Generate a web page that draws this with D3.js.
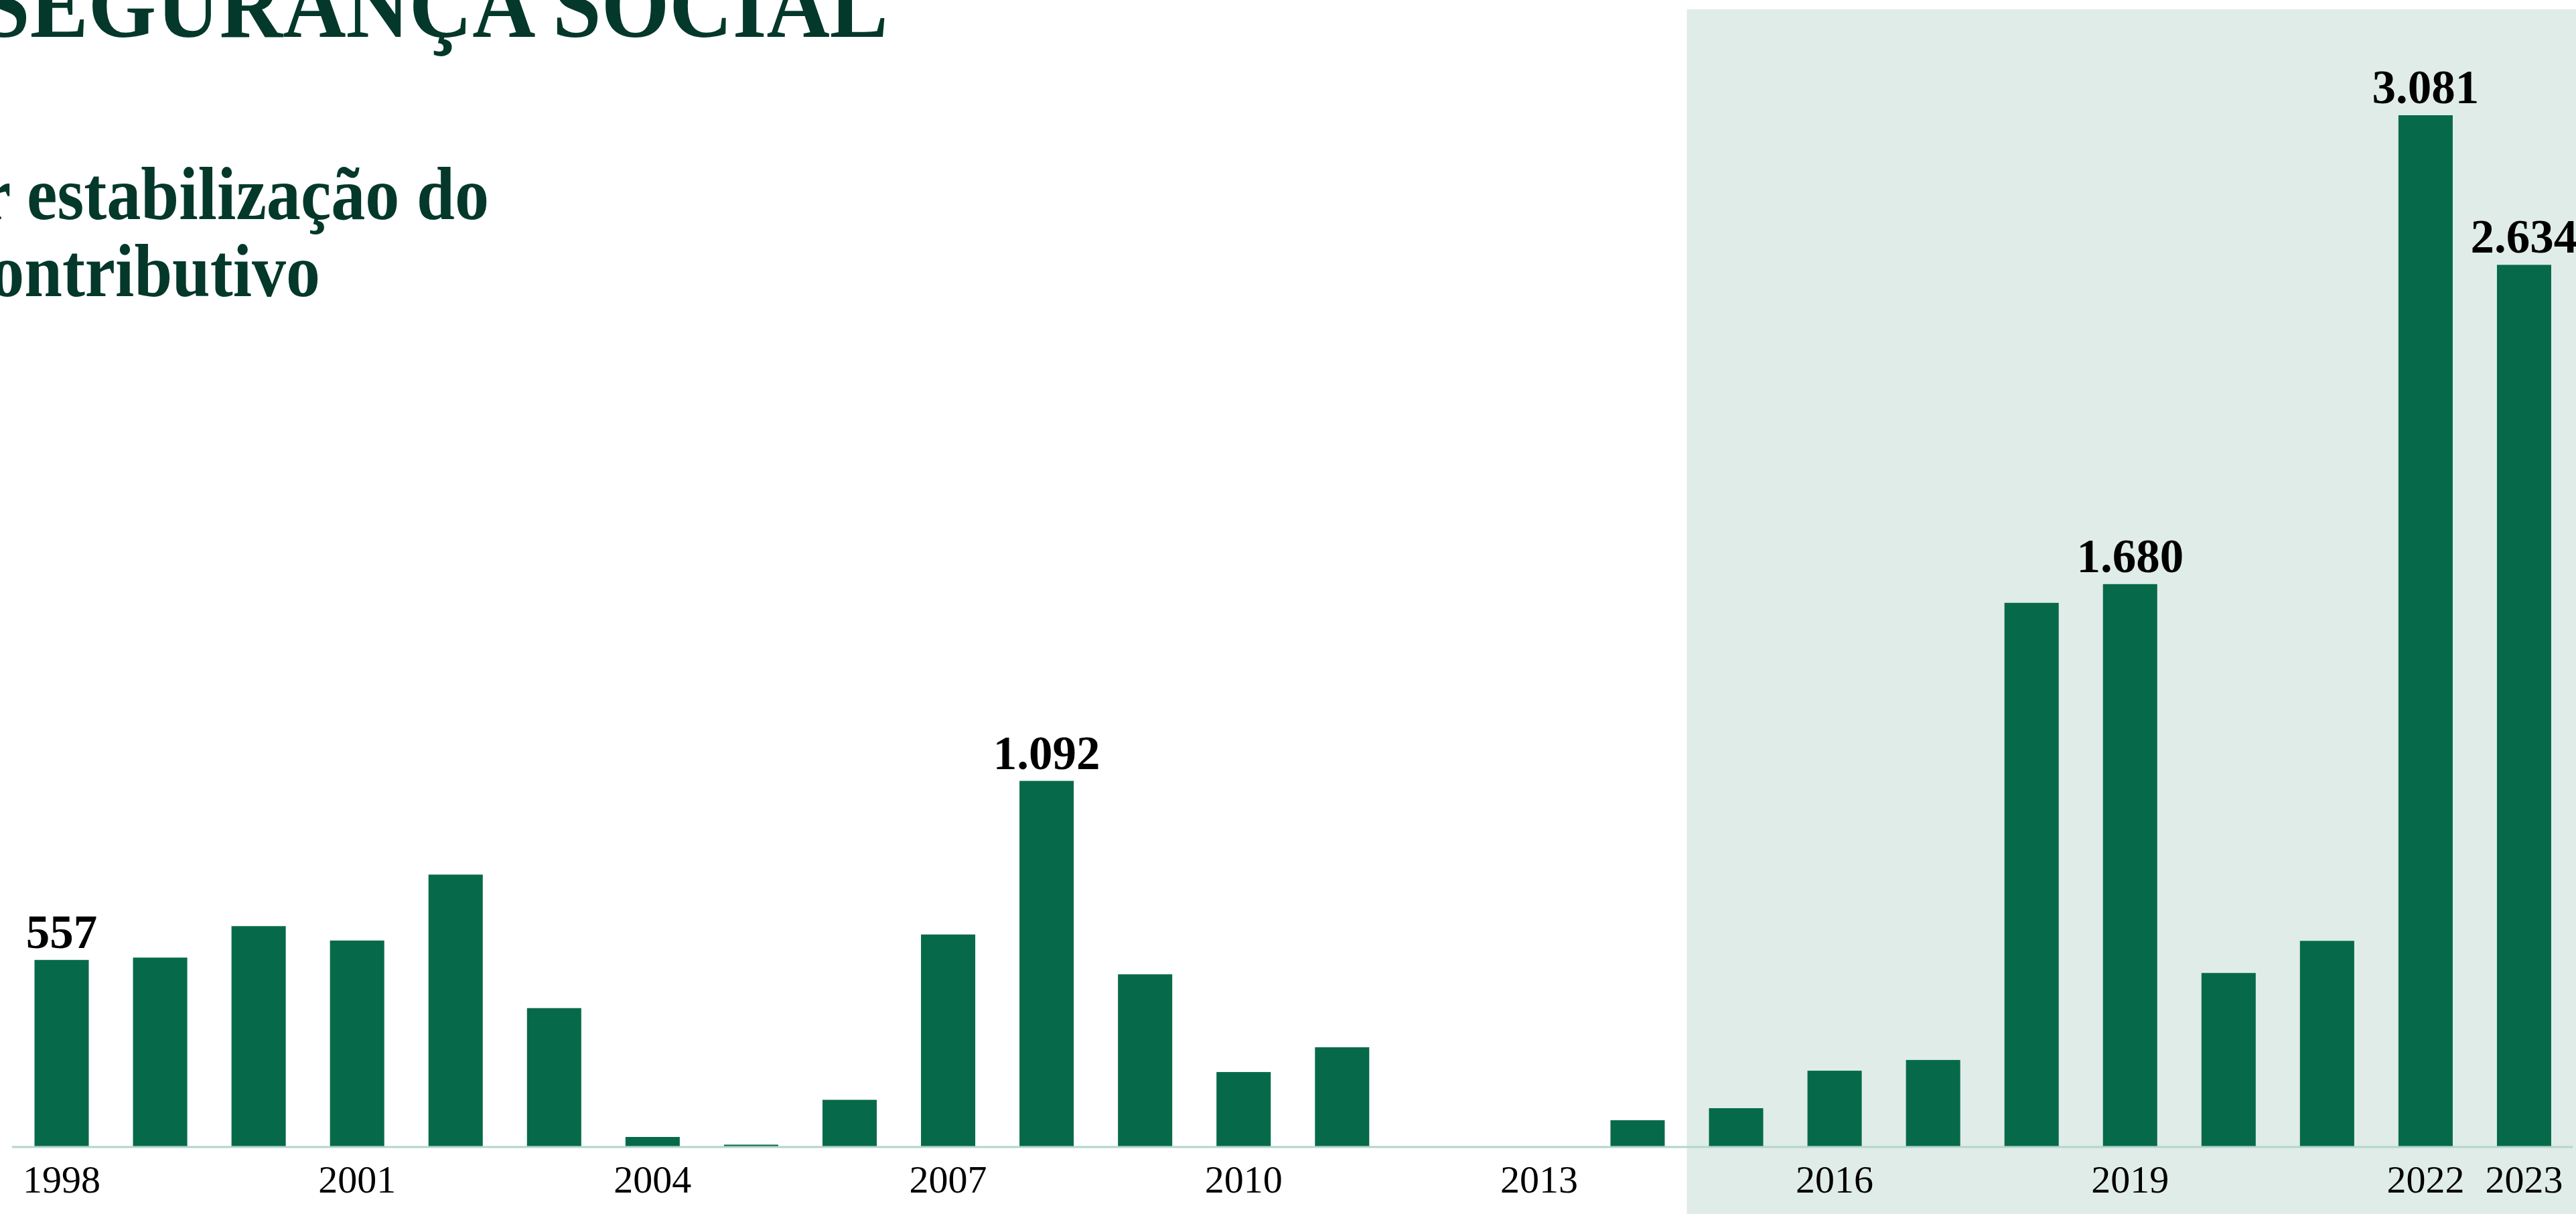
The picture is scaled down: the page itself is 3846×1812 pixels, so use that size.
<!DOCTYPE html>
<html>
<head>
<meta charset="utf-8">
<script src="https://cdn.jsdelivr.net/npm/d3@7"></script>
<style>
  body { margin: 0; background: #fff; overflow: hidden; }
  svg { display: block; }
</style>
</head>
<body>
<div id="chart"></div>
<script>
const W = 3846, H = 1812;

// data (milhões de euros)
const years = d3.range(1998, 2024);
const values = [557, 564, 658, 615, 812, 413, 28, 5, 139, 633, 1092, 514, 222, 296,
                0, 0, 78, 114, 226, 258, 1624, 1680, 518, 614, 3081, 2634];
const labelledYears = [1998, 2008, 2019, 2022, 2023];
const tickYears = [1998, 2001, 2004, 2007, 2010, 2013, 2016, 2019, 2022, 2023];
const shadeFrom = 2015;
const titleText = "SEGURANÇA SOCIAL";
const subtitleLines = ["r estabilização do", "contributivo"];

const green = "#066a4a";
const dark = "#04382a";

const pt = d3.formatLocale({decimal: ",", thousands: ".", grouping: [3], currency: ["", "€"]});
const fmt = pt.format(",d");

const data = years.map((y, i) => ({year: y, value: values[i]}));

const baseline = 1711;

const x = d3.scaleBand()
  .domain(years)
  .range([51.5, 3809])
  .paddingInner(0.449)
  .paddingOuter(0);

const y = d3.scaleLinear()
  .domain([0, 3081])
  .range([baseline, 172]);

const svg = d3.select("#chart").append("svg")
  .attr("width", W)
  .attr("height", H);

// shaded period
const shadeX = x(shadeFrom) - x.step() * x.paddingInner() / 2;
svg.append("rect")
  .attr("x", shadeX)
  .attr("y", 14)
  .attr("width", W - shadeX)
  .attr("height", H - 14)
  .attr("fill", "#e0ece8");

// title + subtitle (cut by the frame like the original)
svg.append("text")
  .attr("x", 1326)
  .attr("y", 55)
  .attr("text-anchor", "end")
  .attr("font-family", "Liberation Serif, serif")
  .attr("font-weight", "bold")
  .attr("font-size", 142)
  .attr("textLength", 1354)
  .attr("lengthAdjust", "spacingAndGlyphs")
  .attr("fill", dark)
  .text(titleText);

const subLen = [759, 538];
svg.selectAll(".sub")
  .data(subtitleLines)
  .enter()
  .append("text")
  .attr("class", "sub")
  .attr("x", (d, i) => i === 0 ? 730 : 478)
  .attr("y", (d, i) => 327 + i * 115)
  .attr("text-anchor", "end")
  .attr("font-family", "Liberation Serif, serif")
  .attr("font-weight", "bold")
  .attr("font-size", 112)
  .attr("textLength", (d, i) => subLen[i])
  .attr("lengthAdjust", "spacingAndGlyphs")
  .attr("fill", dark)
  .text(d => d);

// bars
svg.selectAll(".bar")
  .data(data)
  .enter()
  .append("rect")
  .attr("class", "bar")
  .attr("x", d => x(d.year))
  .attr("y", d => y(d.value))
  .attr("width", x.bandwidth())
  .attr("height", d => baseline - y(d.value))
  .attr("fill", green);

// baseline
svg.append("line")
  .attr("x1", 18)
  .attr("x2", 3841)
  .attr("y1", baseline + 1)
  .attr("y2", baseline + 1)
  .attr("stroke", "#b3d6ca")
  .attr("stroke-width", 3);

// x axis
const xAxis = d3.axisBottom(x)
  .tickValues(tickYears)
  .tickSize(0)
  .tickFormat(d => d);

const gx = svg.append("g")
  .attr("transform", "translate(0," + baseline + ")")
  .call(xAxis);
gx.select(".domain").remove();
gx.selectAll("text")
  .attr("y", 69)
  .attr("dy", 0)
  .attr("font-family", "Liberation Serif, serif")
  .attr("font-size", 58)
  .attr("fill", "#000");

// value labels
svg.selectAll(".val")
  .data(data.filter(d => labelledYears.includes(d.year)))
  .enter()
  .append("text")
  .attr("class", "val")
  .attr("x", d => x(d.year) + x.bandwidth() / 2)
  .attr("y", d => y(d.value) - 18)
  .attr("text-anchor", "middle")
  .attr("font-family", "Liberation Serif, serif")
  .attr("font-weight", "bold")
  .attr("font-size", 71)
  .attr("fill", "#000")
  .text(d => fmt(d.value));
</script>
</body>
</html>
